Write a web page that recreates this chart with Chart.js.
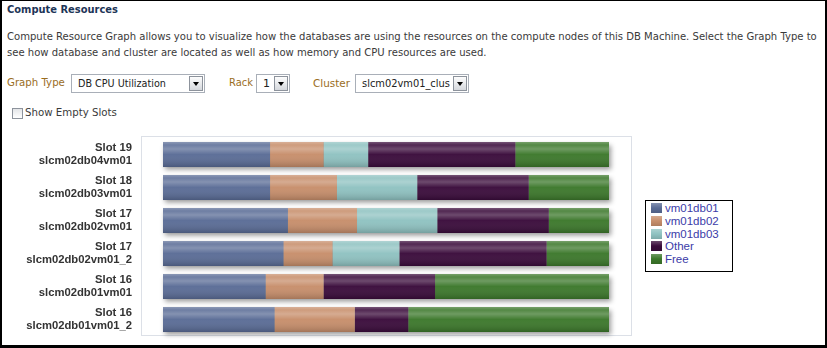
<!DOCTYPE html>
<html>
<head>
<meta charset="utf-8">
<script src="https://cdn.jsdelivr.net/npm/chart.js@4.4.1/dist/chart.umd.min.js"></script>
<style>
  html, body { margin: 0; padding: 0; background: #fff; }
  #page {
    position: relative; width: 823px; height: 344px;
    border-style: solid; border-color: #000;
    border-width: 1px 2px 3px 2px;
    overflow: hidden; background: #fff;
    font-family: "DejaVu Sans", Tahoma, sans-serif;
  }
  .t { position: absolute; white-space: nowrap; line-height: 14px; font-size: 12px; }
  .title { color: #1d3557; font-weight: bold; }
  .body { color: #3a3a3a; }
  .lbl { color: #9a6d1e; }
  .sel {
    position: absolute; height: 17px; border: 1px solid #a9afb8; background: #fff;
    font-size: 11px; color: #222; line-height: 17px; box-sizing: content-box;
  }
  .sel span { position: absolute; left: 6px; top: 0; white-space: nowrap; }
  .sel i {
    position: absolute; right: 1px; top: 1px; width: 12px; height: 13px;
    border: 1px solid #8d939c; background: linear-gradient(#fdfdfd, #d5d8dd);
  }
  .sel i:after {
    content: ""; position: absolute; left: 3px; top: 5px;
    border-left: 3px solid transparent; border-right: 3px solid transparent; border-top: 4px solid #000;
  }
  #chk { position: absolute; left: 10px; top: 107px; width: 9px; height: 9px;
         border: 1px solid #8d939c; background: linear-gradient(#e3e5e8, #fff); }
  #wrap { position: absolute; left: -2px; top: 129px; width: 640px; height: 215px; }
  #legend {
    position: absolute; left: 643px; top: 199px; width: 86px; height: 69px;
    border: 1px solid #000; background: #fff; padding-top: 1px;
    font-family: "Liberation Sans", Arial, sans-serif; font-size: 11.5px; color: #3b3ba8;
  }
  #legend div { position: relative; height: 12.8px; line-height: 12.8px; padding-left: 19px; }
  #legend b { position: absolute; left: 5px; top: 1px; width: 11px; height: 10px; }
</style>
</head>
<body>
<div id="page">
  <span class="t title" style="left:5px;top:2px" data-w="111">Compute Resources</span>
  <span class="t body" id="p1" style="left:5px;top:29px" data-w="811">Compute Resource Graph allows you to visualize how the databases are using the resources on the compute nodes of this DB Machine. Select the Graph Type to</span>
  <span class="t body" id="p2" style="left:5px;top:45px">see how database and cluster are located as well as how memory and CPU resources are used.</span>

  <span class="t lbl" style="left:5px;top:75px" data-w="58">Graph Type</span>
  <div class="sel" style="left:69px;top:73px;width:132px"><span data-w="88">DB CPU Utilization</span><i></i></div>
  <span class="t lbl" style="left:227px;top:75px" data-w="24">Rack</span>
  <div class="sel" style="left:254px;top:73px;width:32px"><span>1</span><i></i></div>
  <span class="t lbl" style="left:311px;top:75px" data-w="37">Cluster</span>
  <div class="sel" style="left:353px;top:73px;width:112px"><span data-w="88">slcm02vm01_clus</span><i></i></div>

  <div id="chk"></div>
  <span class="t body" style="left:23px;top:105px" data-w="92">Show Empty Slots</span>

  <div id="wrap"><canvas id="chart" width="640" height="215"></canvas></div>
  <div id="legend"></div>
</div>

<script>
const slots = [
  ["Slot 19", "slcm02db04vm01"],
  ["Slot 18", "slcm02db03vm01"],
  ["Slot 17", "slcm02db02vm01"],
  ["Slot 17", "slcm02db02vm01_2"],
  ["Slot 16", "slcm02db01vm01"],
  ["Slot 16", "slcm02db01vm01_2"]
];
const seriesNames = ["vm01db01", "vm01db02", "vm01db03", "Other", "Free"];
const vm01db01 = [24, 24, 28, 27, 23, 25];
const vm01db02 = [12, 15, 15.5, 11, 13, 18];
const vm01db03 = [10, 18, 18, 15, 0, 0];
const other = [33, 25, 25, 33, 25, 12];
const free = [21, 18, 13.5, 14, 39, 45];
const colors = ["#5a6c96", "#c78e6b", "#8fc2c1", "#3a0b3b", "#3c782b"];

// fit text widths to the screenshot
document.querySelectorAll("[data-w]").forEach(el => {
  const w = el.getBoundingClientRect().width;
  const fs = parseFloat(getComputedStyle(el).fontSize);
  el.style.fontSize = (fs * el.dataset.w / w) + "px";
});
document.getElementById("p2").style.fontSize = document.getElementById("p1").style.fontSize;

function rows(chart) {
  const out = [];
  const metas = chart.data.datasets.map((d, i) => chart.getDatasetMeta(i));
  slots.forEach((s, i) => {
    let l = Infinity, r = -Infinity, y = 0, h = 0;
    metas.forEach(m => {
      const el = m.data[i];
      if (!el) return;
      l = Math.min(l, el.base, el.x);
      r = Math.max(r, el.base, el.x);
      y = el.y; h = el.height;
    });
    out.push({ l, r, top: y - h / 2, h });
  });
  return out;
}

const framePlugin = {
  id: "frame",
  beforeDraw(chart) {
    const { ctx, chartArea: a } = chart;
    ctx.save();
    ctx.strokeStyle = "#dce0e7";
    ctx.lineWidth = 1;
    ctx.strokeRect(a.left - 21.5, a.top - 1.5, a.right - a.left + 44, a.bottom - a.top + 1);
    ctx.restore();
  },
  beforeDatasetsDraw(chart) {
    const ctx = chart.ctx;
    ctx.save();
    ctx.shadowColor = "rgba(0,0,0,0.4)";
    ctx.shadowBlur = 5;
    ctx.shadowOffsetX = 2;
    ctx.shadowOffsetY = 3;
    ctx.fillStyle = "#888";
    rows(chart).forEach(r => ctx.fillRect(r.l, r.top, r.r - r.l, r.h));
    ctx.restore();
  },
  afterDatasetsDraw(chart) {
    const ctx = chart.ctx;
    ctx.save();
    rows(chart).forEach(r => {
      const g = ctx.createLinearGradient(0, r.top, 0, r.top + r.h);
      g.addColorStop(0, "rgba(255,255,255,0.30)");
      g.addColorStop(0.12, "rgba(255,255,255,0.12)");
      g.addColorStop(0.28, "rgba(255,255,255,0.26)");
      g.addColorStop(0.5, "rgba(255,255,255,0.03)");
      g.addColorStop(1, "rgba(0,0,0,0.18)");
      ctx.fillStyle = g;
      ctx.fillRect(r.l, r.top, r.r - r.l, r.h);
    });
    ctx.restore();
  }
};

const chart = new Chart(document.getElementById("chart"), {
  type: "bar",
  data: {
    labels: slots,
    datasets: [vm01db01, vm01db02, vm01db03, other, free].map((d, i) => ({
      label: seriesNames[i],
      data: d,
      backgroundColor: colors[i],
      borderWidth: 0,
      categoryPercentage: 0.76,
      barPercentage: 1
    }))
  },
  options: {
    indexAxis: "y",
    responsive: false,
    animation: false,
    layout: { padding: { top: 8, bottom: 9, right: 31, left: 0 } },
    plugins: { legend: { display: false }, tooltip: { enabled: false } },
    scales: {
      x: { stacked: true, min: 0, max: 100, display: false },
      y: {
        stacked: true,
        grid: { display: false, drawTicks: false },
        border: { display: false },
        afterFit(scale) {
          scale.width = 163;
          scale.paddingTop = 0;
          scale.paddingBottom = 0;
        },
        ticks: {
          padding: 31,
          autoSkip: false,
          color: "#333",
          font: { family: "'Liberation Sans', Arial, sans-serif", size: 11.25, weight: "bold", lineHeight: 1.12 }
        }
      }
    }
  },
  plugins: [framePlugin]
});

// legend box built from the chart datasets
const legend = document.getElementById("legend");
chart.data.datasets.forEach(ds => {
  const row = document.createElement("div");
  const sw = document.createElement("b");
  sw.style.background = "linear-gradient(rgba(255,255,255,0.25), rgba(255,255,255,0) 50%, rgba(0,0,0,0.12)), " + ds.backgroundColor;
  row.appendChild(sw);
  row.appendChild(document.createTextNode(ds.label));
  legend.appendChild(row);
});
</script>
</body>
</html>
